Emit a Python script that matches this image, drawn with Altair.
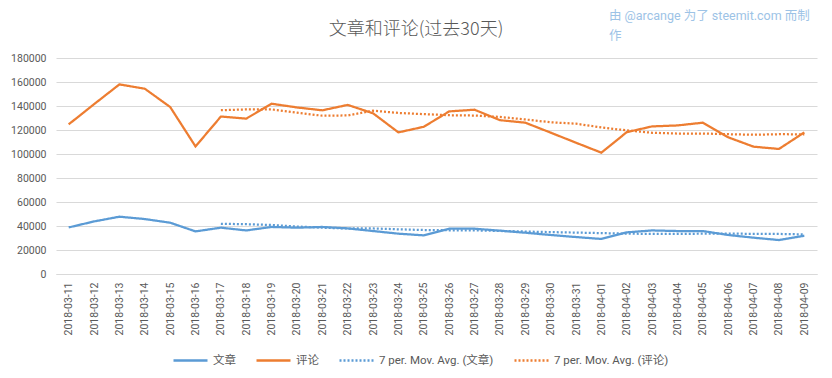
import altair as alt
import pandas as pd

dates = [
    "2018-03-11", "2018-03-12", "2018-03-13", "2018-03-14", "2018-03-15",
    "2018-03-16", "2018-03-17", "2018-03-18", "2018-03-19", "2018-03-20",
    "2018-03-21", "2018-03-22", "2018-03-23", "2018-03-24", "2018-03-25",
    "2018-03-26", "2018-03-27", "2018-03-28", "2018-03-29", "2018-03-30",
    "2018-03-31", "2018-04-01", "2018-04-02", "2018-04-03", "2018-04-04",
    "2018-04-05", "2018-04-06", "2018-04-07", "2018-04-08", "2018-04-09",
]

wenzhang = [
    38800, 43800, 47750, 45800, 42750, 35500, 38600, 36300, 39200, 38600,
    39200, 38000, 35800, 33600, 32200, 37750, 37750, 36100, 34400, 32500,
    30800, 29200, 34700, 36300, 35800, 35800, 32500, 30250, 28300, 31900,
]

pinglun = [
    124700, 141500, 158000, 154400, 139200, 106300, 131200, 129500, 141900, 138800,
    136400, 140900, 133900, 118000, 122700, 135500, 136900, 128200, 126100, 117800,
    109400, 101100, 118200, 123000, 123800, 126100, 113900, 106100, 104200, 118000,
]

ma_wenzhang = [None] * 6 + [
    41860, 41500, 40840, 39540, 38590, 37910, 37960, 37240, 36660, 36450,
    36330, 35890, 35370, 34900, 34500, 34070, 33640, 33430, 33390, 33590,
    33590, 33510, 33380, 32980,
]

ma_pinglun = [None] * 6 + [
    136470, 137160, 137210, 134470, 131900, 132140, 136090, 134200, 133230, 132310,
    132040, 130870, 128760, 126460, 125230, 122140, 119670, 117690, 117060, 117060,
    116500, 116030, 116470, 116440,
]

series_names = ["文章", "评论", "7 per. Mov. Avg. (文章)", "7 per. Mov. Avg. (评论)"]
series_colors = ["#5B9BD5", "#ED7D31", "#5B9BD5", "#ED7D31"]
series_dashes = [[1, 0], [1, 0], [2, 2], [2, 2]]
y_ticks = [0, 20000, 40000, 60000, 80000, 100000, 120000, 140000, 160000, 180000]

title_text = ["文章和评论(过去30天)"]
note_text = ["由 @arcange 为了 steemit.com 而制\n作"]

rows = []
for name, vals in zip(series_names, [wenzhang, pinglun, ma_wenzhang, ma_pinglun]):
    for d, v in zip(dates, vals):
        if v is not None:
            rows.append({"date": d, "value": v, "series": name})
df = pd.DataFrame(rows)

FONT = "Roboto, 'Noto Sans CJK SC', sans-serif"
GREY = "#595959"

legend = alt.Legend(
    orient="none",
    legendX=116,
    legendY=284,
    direction="horizontal",
    title=None,
    symbolType="stroke",
    symbolSize=1156,
    symbolStrokeWidth=2.5,
    labelFont=FONT,
    labelFontSize=11.5,
    labelColor=GREY,
    labelOffset=4,
    columnPadding=15,
    padding=0,
)

lines = alt.Chart(df).mark_line(strokeWidth=2.25).encode(
    x=alt.X(
        "date:O",
        title=None,
        scale=alt.Scale(type="point", padding=0.5),
        axis=alt.Axis(
            labelAngle=270,
            ticks=False,
            tickSize=0,
            labelPadding=8,
            domainColor="#D9D9D9",
            labelColor=GREY,
            labelFont=FONT,
            labelFontSize=10.5,
            grid=False,
        ),
    ),
    y=alt.Y(
        "value:Q",
        title=None,
        scale=alt.Scale(domain=[0, 180000], nice=False),
        axis=alt.Axis(
            values=y_ticks,
            format="d",
            domain=False,
            ticks=False,
            tickSize=0,
            labelPadding=10,
            gridColor="#D9D9D9",
            labelColor=GREY,
            labelFont=FONT,
            labelFontSize=10.5,
        ),
    ),
    color=alt.Color(
        "series:N",
        scale=alt.Scale(domain=series_names, range=series_colors),
        legend=legend,
    ),
    strokeDash=alt.StrokeDash(
        "series:N",
        scale=alt.Scale(domain=series_names, range=series_dashes),
        legend=legend,
    ),
)

title = alt.Chart(pd.DataFrame({"t": title_text})).mark_text(
    align="center",
    baseline="middle",
    fontSize=18,
    font="'Noto Sans CJK SC', sans-serif",
    fontWeight=300,
    color=GREY,
).encode(x=alt.value(360), y=alt.value(-28), text="t:N")

note = alt.Chart(pd.DataFrame({"t": note_text})).mark_text(
    align="left",
    baseline="top",
    lineBreak="\n",
    lineHeight=20,
    fontSize=12.5,
    font=FONT,
    color="#9DC3E6",
).encode(x=alt.value(553), y=alt.value(-48), text="t:N")

chart = (
    alt.layer(lines, title, note)
    .properties(
        width=761,
        height=216,
        padding={"left": 48, "top": 50, "right": 7, "bottom": 96},
        autosize=alt.AutoSizeParams(type="none"),
        background="white",
    )
    .configure_view(stroke=None)
)

chart.save("out.html", embed_options={"renderer": "svg", "actions": False})
